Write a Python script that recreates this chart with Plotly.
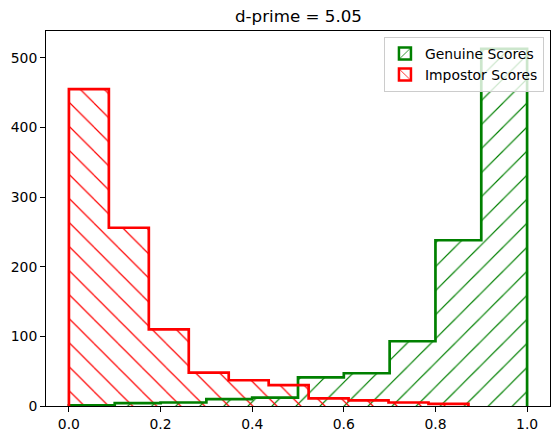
import plotly.graph_objects as go

# ---- data ----
title_text = "d-prime = 5.05"
genuine_label = "Genuine Scores"
impostor_label = "Impostor Scores"

genuine_edges = [0.0, 0.1, 0.2, 0.3, 0.4, 0.5, 0.6, 0.7, 0.8, 0.9, 1.0]
genuine_counts = [1, 4, 5, 10, 12, 41, 47, 93, 238, 513]

impostor_edges = [0.0, 0.0872, 0.1744, 0.2616, 0.3488, 0.436, 0.5232,
                  0.6104, 0.6976, 0.7848, 0.872]
impostor_counts = [455, 256, 110, 48, 37, 30, 11, 8, 5, 3]

x_ticks = [0.0, 0.2, 0.4, 0.6, 0.8, 1.0]
y_ticks = [0, 100, 200, 300, 400, 500]

GREEN = "#008000"
RED = "#ff0000"
FONT = "DejaVu Sans"


def step_xy(edges, counts):
    xs = [edges[0]] + list(edges[:-1]) + [edges[-1], edges[-1]]
    ys = [0] + list(counts) + [counts[-1], 0]
    return xs, ys


fig = go.Figure()

for edges, counts, color, shape in [
    (genuine_edges, genuine_counts, GREEN, "/"),
    (impostor_edges, impostor_counts, RED, "\\"),
]:
    lefts = edges[:-1]
    widths = [edges[i + 1] - edges[i] for i in range(len(counts))]
    fig.add_trace(go.Bar(
        x=lefts, y=counts, width=widths, offset=0,
        marker=dict(color="rgba(0,0,0,0)", line=dict(width=0),
                    pattern=dict(shape=shape, fgcolor=color, fgopacity=1,
                                 size=17, solidity=0.07, fillmode="overlay")),
        showlegend=False, hoverinfo="skip",
    ))

for edges, counts, color in [
    (genuine_edges, genuine_counts, GREEN),
    (impostor_edges, impostor_counts, RED),
]:
    xs, ys = step_xy(edges, counts)
    fig.add_trace(go.Scatter(
        x=xs, y=ys, mode="lines", line=dict(color=color, width=2.7, shape="hv"),
        showlegend=False, hoverinfo="skip",
    ))

# legend entries
for name, color, shape in [(genuine_label, GREEN, "/"), (impostor_label, RED, "\\")]:
    fig.add_trace(go.Bar(
        x=[None], y=[None], name=name,
        marker=dict(color="rgba(0,0,0,0)", line=dict(color=color, width=2.5),
                    pattern=dict(shape=shape, fgcolor=color, fgopacity=1,
                                 size=12, solidity=0.1, fillmode="overlay")),
    ))

fig.update_layout(
    width=551, height=432,
    margin=dict(l=46, r=0, t=31, b=24),
    paper_bgcolor="white", plot_bgcolor="white",
    barmode="overlay", bargap=0,
    font=dict(family=FONT, size=13.9, color="black"),
    title=dict(text=title_text, x=(46 + 551) / 2 / 551, xanchor="center",
               y=1 - 16 / 432, yanchor="middle", yref="container",
               font=dict(family=FONT, size=16.7, color="black")),
    legend=dict(x=0.988, xanchor="right", y=0.984, yanchor="top",
                bgcolor="rgba(255,255,255,0.8)", bordercolor="#cccccc",
                borderwidth=1, font=dict(family=FONT, size=13.9),
                tracegroupgap=0),
    xaxis=dict(range=[-0.05, 1.05], tickvals=x_ticks, tickformat=".1f",
               showgrid=False, zeroline=False, showline=True, mirror=True,
               linecolor="black", linewidth=1, ticks="outside", ticklen=5,
               tickwidth=1, tickcolor="black"),
    yaxis=dict(range=[0, 538.5], tickvals=y_ticks,
               showgrid=False, zeroline=False, showline=True, mirror=True,
               linecolor="black", linewidth=1, ticks="outside", ticklen=5,
               tickwidth=1, tickcolor="black"),
)

fig.write_html(
    "out.html",
    config={"displayModeBar": False},
    post_script="document.body.style.margin='0';document.body.style.overflow='hidden';",
)
